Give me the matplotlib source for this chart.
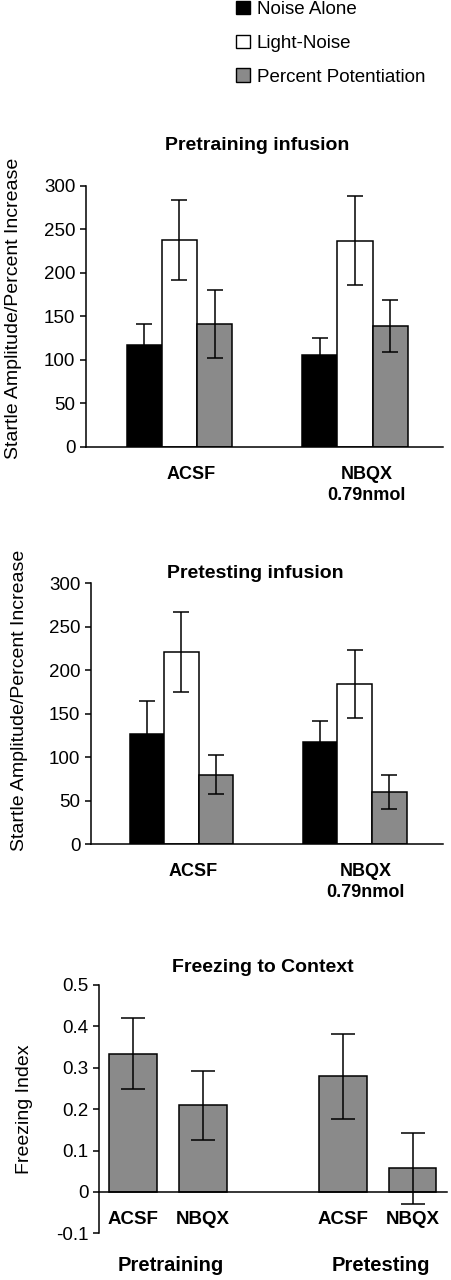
import numpy as np
import matplotlib.pyplot as plt
from matplotlib.patches import Patch

plt.rcParams['font.family'] = ['Liberation Sans', 'DejaVu Sans']

# Startle data (means and SEM)
series = ['Noise Alone', 'Light-Noise', 'Percent Potentiation']
colors = ['black', 'white', '#8a8a8a']
groups = ['ACSF', 'NBQX\n0.79nmol']

pretrain_mean = [[117, 105], [238, 237], [141, 139]]
pretrain_err = [[24, 20], [46, 51], [39, 30]]
pretest_mean = [[127, 117], [221, 184], [80, 60]]
pretest_err = [[37, 24], [46, 39], [22, 20]]

# Freezing data
freeze_labels = ['ACSF', 'NBQX', 'ACSF', 'NBQX']
freeze_groups = ['Pretraining', 'Pretesting']
freeze_mean = [0.334, 0.209, 0.279, 0.057]
freeze_err = [0.085, 0.083, 0.102, 0.086]

LW = 1.1


def clean_axes(ax):
    for s in ['top', 'right']:
        ax.spines[s].set_visible(False)
    for s in ['left', 'bottom']:
        ax.spines[s].set_linewidth(LW)
    ax.tick_params(axis='y', labelsize=13.5, length=4, width=LW, direction='out')


def startle_panel(ax, means, errs, xlim):
    x = np.arange(len(groups))
    w = 0.2
    for i in range(len(series)):
        ax.bar(x + (i - 1) * w, means[i], w, yerr=errs[i], color=colors[i],
               edgecolor='black', linewidth=LW,
               error_kw=dict(ecolor='black', elinewidth=LW, capsize=5.5, capthick=LW))
    ax.set_ylim(0, 300)
    ax.set_xlim(*xlim)
    ax.set_yticks(range(0, 301, 50))
    ax.set_xticks(x + 0.065)
    ax.set_xticklabels(groups, fontweight='bold', fontsize=13, linespacing=1.3)
    ax.tick_params(axis='x', length=0, pad=14)
    clean_axes(ax)


fig = plt.figure(figsize=(4.52, 12.8), dpi=100)

# legend at top
handles = [Patch(facecolor=c, edgecolor='black', linewidth=1.0) for c in colors]
fig.legend(handles, series, loc='upper left', bbox_to_anchor=(0.522, 0.9995),
           frameon=False, fontsize=13.5, handlelength=0.75, handleheight=0.75,
           handletextpad=0.35, labelspacing=0.88, borderpad=0, borderaxespad=0)

# Pretraining infusion
ax1 = fig.add_axes([0.190, 0.651, 0.790, 0.2037])
startle_panel(ax1, pretrain_mean, pretrain_err, (-0.533, 1.501))
fig.text(0.5686, 0.8867, 'Pretraining infusion', ha='center', va='center',
         fontweight='bold', fontsize=14)
fig.text(14 / 452, 1 - 308 / 1280, 'Startle Amplitude/Percent Increase', rotation=90,
         ha='center', va='center', fontsize=14)

# Pretesting infusion
ax2 = fig.add_axes([0.2007, 0.3406, 0.780, 0.2037])
startle_panel(ax2, pretest_mean, pretest_err, (-0.524, 1.512))
fig.text(0.564, 0.5523, 'Pretesting infusion', ha='center', va='center',
         fontweight='bold', fontsize=14)
fig.text(20 / 452, 1 - 700 / 1280, 'Startle Amplitude/Percent Increase', rotation=90,
         ha='center', va='center', fontsize=14)

# Freezing to context
ax3 = fig.add_axes([0.219, 0.0365, 0.769, 0.194])
xf = np.array([0, 1, 3, 4])
ax3.bar(xf, freeze_mean, 0.68, yerr=freeze_err, color=colors[2], edgecolor='black',
        linewidth=LW, error_kw=dict(ecolor='black', elinewidth=LW, capsize=8.4, capthick=LW))
ax3.set_ylim(-0.1, 0.5)
ax3.set_xlim(-0.483, 4.484)
ax3.spines['bottom'].set_position(('data', 0))
ax3.set_yticks([-0.1, 0, 0.1, 0.2, 0.3, 0.4, 0.5])
ax3.set_yticklabels(['-0.1', '0', '0.1', '0.2', '0.3', '0.4', '0.5'])
ax3.set_xticks(xf)
ax3.set_xticklabels(freeze_labels, fontweight='bold', fontsize=13.5)
ax3.tick_params(axis='x', length=0, pad=14)
clean_axes(ax3)
for i, g in enumerate(freeze_groups):
    ax3.text(xf[2 * i:2 * i + 2].mean() + 0.04, -0.177, g, ha='center', va='center',
             fontweight='bold', fontsize=14.5, clip_on=False)
fig.text(0.5818, 1 - 967 / 1280, 'Freezing to Context', ha='center', va='center',
         fontweight='bold', fontsize=14)
fig.text(25 / 452, 1 - 1109 / 1280, 'Freezing Index', rotation=90,
         ha='center', va='center', fontsize=14)

fig.savefig('out.png', dpi=100)
